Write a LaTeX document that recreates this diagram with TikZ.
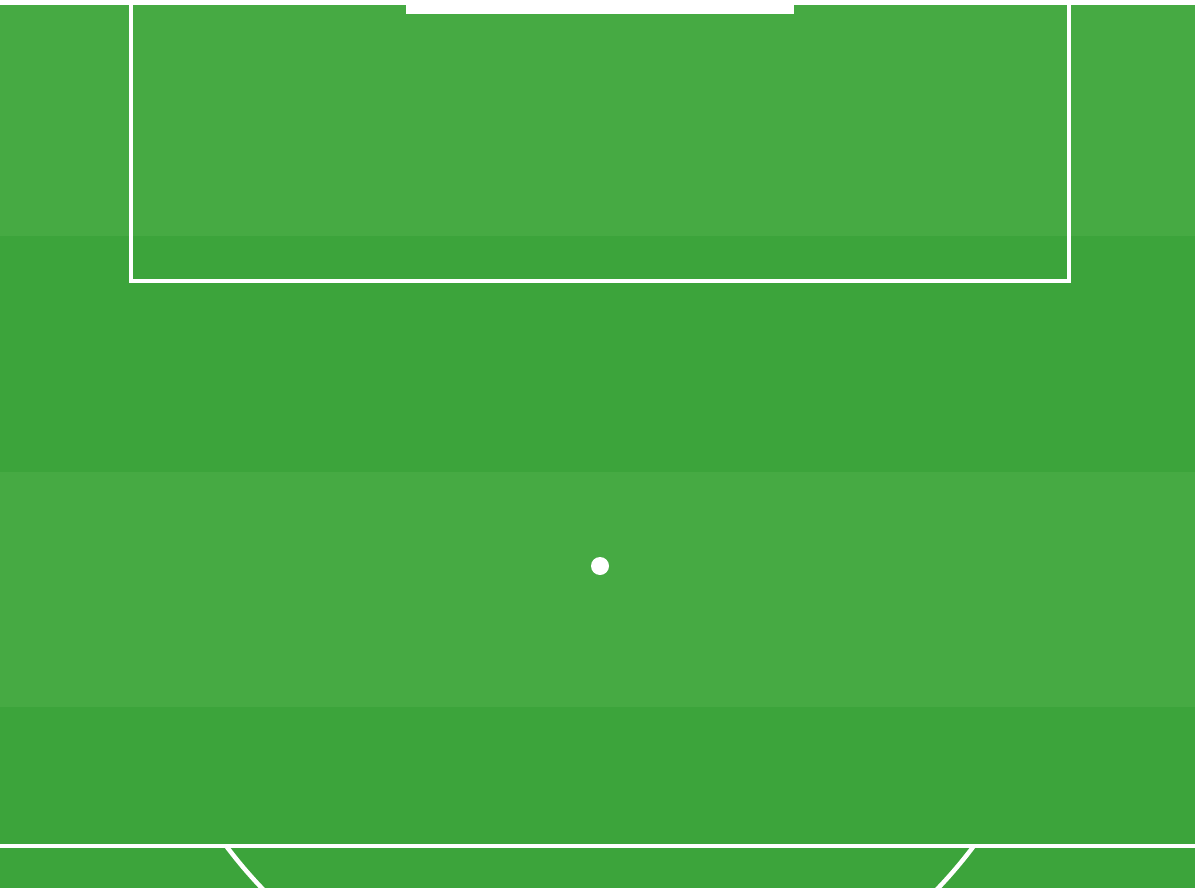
\documentclass[tikz,border=0pt]{standalone}
\usepackage{tikz}
\definecolor{grasslight}{RGB}{70,170,67}
\definecolor{grassdark}{RGB}{60,164,59}

\begin{document}
\begin{tikzpicture}[x=0.02cm, y=-0.02cm]
\useasboundingbox (0,0) rectangle (1195,888);
\fill[grasslight] (0,0) rectangle (1195,236);
\fill[grassdark] (0,236) rectangle (1195,472);
\fill[grasslight] (0,472) rectangle (1195,707);
\fill[grassdark] (0,707) rectangle (1195,888);
\fill[white] (0,0) rectangle (1195,5);
\fill[white] (406,0) rectangle (794,14);
\draw[white, line width=0.09cm] (131,0) -- (131,281) -- (1069,281) -- (1069,0);
\fill[white] (0,843.5) rectangle (1195,848);
\fill[white] (600,566) circle (9);
\begin{scope}
\clip (0,846) rectangle (1195,888);
\draw[white, line width=0.09cm] (600,566) circle (467);
\end{scope}
\end{tikzpicture}
\end{document}
